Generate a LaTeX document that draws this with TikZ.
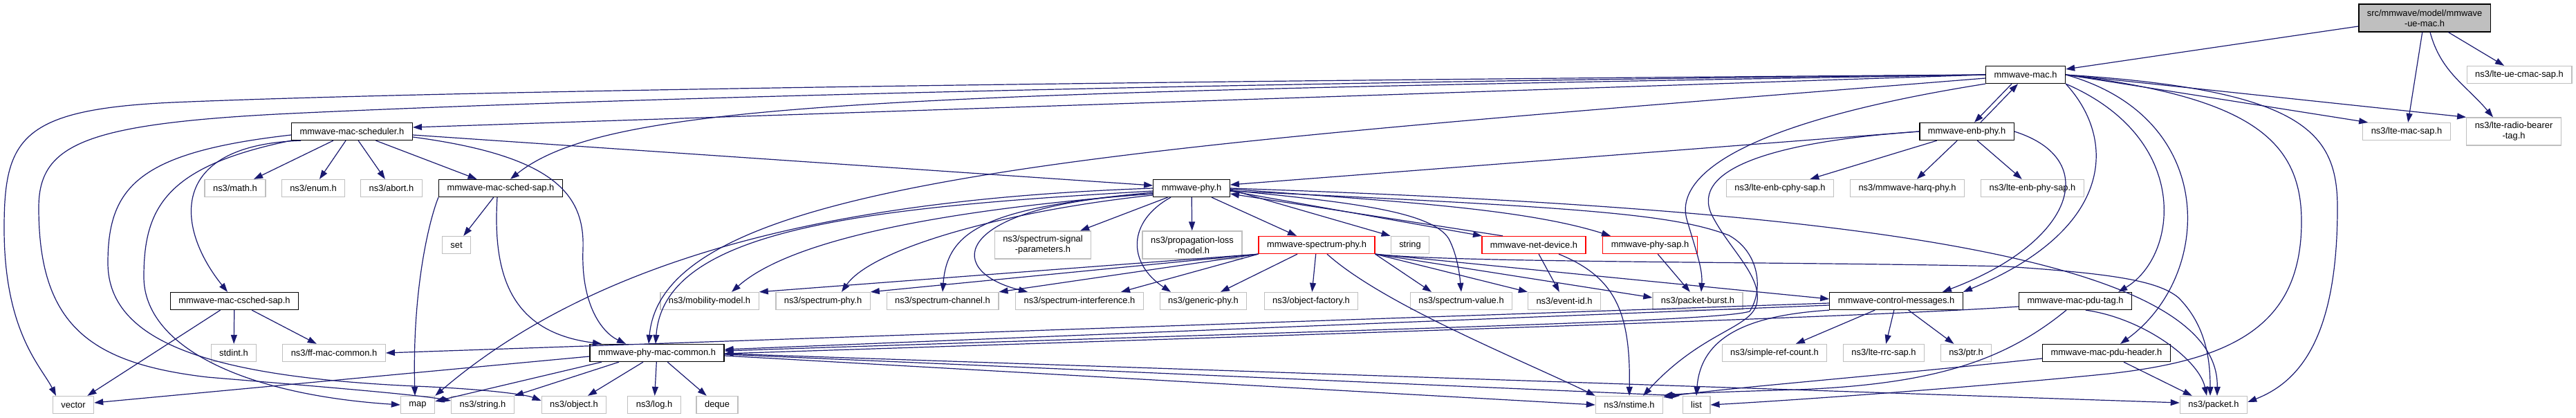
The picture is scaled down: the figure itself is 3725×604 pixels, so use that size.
\documentclass[tikz,border=0pt]{standalone}
\usepackage{fontspec}
\setmainfont{Liberation Sans}
\usetikzlibrary{arrows.meta}

\definecolor{azul}{HTML}{191970}
\definecolor{gris}{HTML}{BFBFBF}

\tikzset{
  caja/.style={rectangle, draw=black, line width=1.3pt, fill=white, inner xsep=12pt, inner ysep=3pt,
    minimum height=25pt, align=center, font=\fontsize{12.9}{15}\selectfont},
  sistema/.style={caja, draw=gris},
  roja/.style={caja, draw=red},
  raiz/.style={caja, fill=gris},
  doble/.style={minimum height=40pt},
  flecha/.style={draw=azul, line width=1.2pt, -{Triangle[length=13pt,width=9pt]}}
}

\begin{document}
\begin{tikzpicture}[x=1pt,y=1pt]

\useasboundingbox (0,0) rectangle (3725,-604);

% Fila 0 y 1
\node[raiz, doble] (uemac) at (3506,-26) {src/mmwave/model/mmwave\\-ue-mac.h};
\node[caja] (mac) at (2929,-108) {mmwave-mac.h};
\node[sistema] (cmacsap) at (3643,-108) {ns3/lte-ue-cmac-sap.h};

% Fila 2
\node[caja] (sched) at (509,-190) {mmwave-mac-scheduler.h};
\node[caja] (enbphy) at (2844,-190) {mmwave-enb-phy.h};
\node[sistema] (macsap) at (3480,-190) {ns3/lte-mac-sap.h};
\node[sistema, doble] (rbtag) at (3635,-190) {ns3/lte-radio-bearer\\-tag.h};

% Fila 3
\node[sistema] (math) at (340,-272) {ns3/math.h};
\node[sistema] (enum) at (453,-272) {ns3/enum.h};
\node[sistema] (abort) at (566,-272) {ns3/abort.h};
\node[caja] (schedsap) at (724,-272) {mmwave-mac-sched-sap.h};
\node[caja] (phy) at (1723,-272) {mmwave-phy.h};
\node[sistema] (cphysap) at (2574,-272) {ns3/lte-enb-cphy-sap.h};
\node[sistema] (harq) at (2758,-272) {ns3/mmwave-harq-phy.h};
\node[sistema] (enbphysap) at (2939,-272) {ns3/lte-enb-phy-sap.h};

% Fila 4
\node[sistema] (set) at (660,-354) {set};
\node[sistema, doble] (sigparams) at (1508,-354) {ns3/spectrum-signal\\-parameters.h};
\node[sistema, doble] (proploss) at (1724,-354) {ns3/propagation-loss\\-model.h};
\node[roja] (specphy) at (1904,-354) {mmwave-spectrum-phy.h};
\node[sistema] (string) at (2039,-354) {string};
\node[roja] (netdev) at (2218,-354) {mmwave-net-device.h};
\node[roja] (physap) at (2386,-354) {mmwave-phy-sap.h};

% Fila 5
\node[caja] (csched) at (339,-435) {mmwave-mac-csched-sap.h};
\node[sistema] (mobility) at (1026,-435) {ns3/mobility-model.h};
\node[sistema] (nsspecphy) at (1190,-435) {ns3/spectrum-phy.h};
\node[sistema] (specchan) at (1363,-435) {ns3/spectrum-channel.h};
\node[sistema] (specint) at (1561,-435) {ns3/spectrum-interference.h};
\node[sistema] (generic) at (1740,-435) {ns3/generic-phy.h};
\node[sistema] (objfact) at (1896,-435) {ns3/object-factory.h};
\node[sistema] (specval) at (2113,-435) {ns3/spectrum-value.h};
\node[sistema] (eventid) at (2262,-435) {ns3/event-id.h};
\node[sistema] (pktburst) at (2455,-435) {ns3/packet-burst.h};
\node[caja] (ctrlmsg) at (2742,-435) {mmwave-control-messages.h};
\node[caja] (pdutag) at (3001,-435) {mmwave-mac-pdu-tag.h};

% Fila 6
\node[sistema] (stdint) at (338,-510) {stdint.h};
\node[sistema] (ffmac) at (483,-510) {ns3/ff-mac-common.h};
\node[caja] (common) at (950,-510) {mmwave-phy-mac-common.h};
\node[sistema] (refcount) at (2566,-510) {ns3/simple-ref-count.h};
\node[sistema] (rrcsap) at (2724,-510) {ns3/lte-rrc-sap.h};
\node[sistema] (ptr) at (2843,-510) {ns3/ptr.h};
\node[caja] (pduhdr) at (3046,-510) {mmwave-mac-pdu-header.h};

% Fila 7
\node[sistema] (vector) at (106,-585) {vector};
\node[sistema] (map) at (604,-585) {map};
\node[sistema] (nsstring) at (698,-585) {ns3/string.h};
\node[sistema] (object) at (830,-585) {ns3/object.h};
\node[sistema] (log) at (946,-585) {ns3/log.h};
\node[sistema] (deque) at (1037,-585) {deque};
\node[sistema] (nstime) at (2356,-585) {ns3/nstime.h};
\node[sistema] (list) at (2453,-585) {list};
\node[sistema] (packet) at (3201,-585) {ns3/packet.h};

% mmwave-ue-mac.h
\draw[flecha] ([yshift=-12pt]uemac.west) -- ([yshift=8pt]mac.east);
\draw[flecha] (uemac) -- (macsap);
\draw[flecha] ([xshift=8pt]uemac.south) to[out=-75,in=130] ([xshift=-30pt]rbtag.north);
\draw[flecha] (uemac) -- (cmacsap);

% mmwave-mac.h
\draw[flecha] (mac.east) -- ([xshift=8pt]macsap.north west);
\draw[flecha] (mac.east) -- (rbtag.north west);
\draw[flecha] ([xshift=-20pt]mac.south) -- ([xshift=11pt]enbphy.north);
\draw[flecha] ([xshift=20pt]enbphy.north) -- ([xshift=-11pt]mac.south);
\draw[flecha] (mac.west) -- ([yshift=6pt]sched.east);
\draw[flecha] (mac.west) .. controls (1300,-135) and (880,-145) .. ([xshift=14pt]schedsap.north);
\draw[flecha] ([yshift=-5pt]mac.west) .. controls (1600,-215) and (960,-255) .. ([xshift=-12pt]common.north);
\draw[flecha] (mac.west) .. controls (1500,-118) and (600,-133) .. (250,-148)
  .. controls (30,-158) and (6,-200) .. (6,-330) .. controls (6,-480) and (60,-530) .. ([xshift=-25pt]vector.north);
\draw[flecha] (mac.west) .. controls (1500,-122) and (700,-150) .. (400,-165)
  .. controls (120,-180) and (56,-210) .. (56,-300) .. controls (56,-470) and (130,-525) .. (300,-545)
  .. controls (480,-560) and (600,-570) .. ([yshift=6pt]nsstring.west);
\draw[flecha] (mac.south west) .. controls (2500,-180) and (2420,-260) .. (2440,-320)
  .. controls (2455,-370) and (2462,-390) .. ([xshift=5pt]pktburst.north);
\draw[flecha] (mac.south east) .. controls (3060,-200) and (3060,-330) .. (ctrlmsg.north east);
\draw[flecha] (mac.south east) .. controls (3170,-200) and (3150,-370) .. ([xshift=-20pt]pdutag.north east);
\draw[flecha] (mac.east) .. controls (3210,-170) and (3200,-400) .. ([xshift=20pt]pduhdr.north);
\draw[flecha] (mac.east) .. controls (3250,-140) and (3328,-200) .. (3328,-320)
  .. controls (3328,-470) and (3230,-520) .. (3050,-540) .. controls (2850,-560) and (2600,-578) .. (list.east);
\draw[flecha] (mac.east) .. controls (3330,-130) and (3380,-190) .. (3380,-300)
  .. controls (3380,-480) and (3330,-550) .. ([yshift=4pt]packet.east);

% mmwave-enb-phy.h
\draw[flecha] (enbphy.west) -- ([yshift=5pt]phy.east);
\draw[flecha] (enbphy) -- (cphysap);
\draw[flecha] (enbphy) -- (harq);
\draw[flecha] (enbphy) -- (enbphysap);
\draw[flecha] (enbphy.east) .. controls (3040,-230) and (3000,-350) .. ([xshift=-30pt]ctrlmsg.north east);
\draw[flecha] (enbphy.west) .. controls (2560,-205) and (2445,-245) .. (2475,-310)
  .. controls (2500,-360) and (2550,-400) .. (2540,-440) .. controls (2530,-475) and (2460,-480) .. ([xshift=20pt]nstime.north);

% mmwave-mac-scheduler.h
\draw[flecha] (sched) -- (math);
\draw[flecha] (sched) -- (enum);
\draw[flecha] (sched) -- (abort);
\draw[flecha] (sched) -- (schedsap);
\draw[flecha] ([yshift=-5pt]sched.east) -- ([yshift=4pt]phy.west);
\draw[flecha] ([yshift=-8pt]sched.east) .. controls (800,-225) and (846,-280) .. (843,-360)
  .. controls (840,-440) and (870,-480) .. ([xshift=-45pt]common.north);
\draw[flecha] ([xshift=-74pt]sched.south) .. controls (240,-210) and (255,-330) .. ([xshift=-10pt]csched.north);
\draw[flecha] (sched.south west) .. controls (240,-240) and (208,-300) .. (208,-400)
  .. controls (208,-500) and (350,-570) .. (map.west);
\draw[flecha] ([yshift=-5pt]sched.west) .. controls (200,-220) and (156,-270) .. (156,-380)
  .. controls (156,-500) and (320,-545) .. (600,-558) .. controls (700,-562) and (760,-570) .. ([yshift=6pt]object.west);

% mmwave-mac-sched-sap.h y mmwave-mac-csched-sap.h
\draw[flecha] (schedsap) -- (set);
\draw[flecha] (schedsap.south west) .. controls (620,-320) and (596,-420) .. ([xshift=-4pt]map.north);
\draw[flecha] ([xshift=-5pt]schedsap.south) .. controls (712,-400) and (740,-480) .. ([xshift=-80pt]common.north);
\draw[flecha] (csched) -- (vector);
\draw[flecha] (csched) -- (stdint);
\draw[flecha] (csched) -- (ffmac);

% mmwave-phy.h
\draw[flecha] (phy.west) .. controls (1300,-285) and (900,-340) .. (map.north east);
\draw[flecha] ([yshift=-4pt]phy.west) .. controls (1250,-300) and (960,-330) .. ([xshift=-2pt]common.north);
\draw[flecha] ([yshift=-8pt]phy.west) .. controls (1400,-300) and (1150,-340) .. ([xshift=32pt]mobility.north);
\draw[flecha] ([yshift=-10pt]phy.west) .. controls (1450,-305) and (1260,-360) .. ([xshift=27pt]nsspecphy.north);
\draw[flecha] ([yshift=-6pt]phy.west) .. controls (1430,-300) and (1370,-330) .. (specchan.north);
\draw[flecha] ([yshift=-8pt]phy.west) .. controls (1380,-295) and (1360,-390) .. ([xshift=-75pt]specint.north);
\draw[flecha] (phy) -- (sigparams);
\draw[flecha] (phy) -- (proploss);
\draw[flecha] ([xshift=-30pt]phy.south) .. controls (1630,-320) and (1630,-380) .. ([xshift=-47pt]generic.north);
\draw[flecha] (phy) -- (specphy);
\draw[flecha] ([yshift=-2pt]phy.east) -- (string.north west);
\draw[flecha] ([yshift=-4pt]phy.east) -- ([xshift=-75pt]netdev.north);
\draw[flecha] ([xshift=-45pt]netdev.north) -- ([yshift=-8pt]phy.east);
\draw[flecha] ([yshift=-1pt]phy.east) .. controls (2000,-290) and (2200,-300) .. ([xshift=-57pt]physap.north);
\draw[flecha] ([yshift=-3pt]phy.east) .. controls (1950,-292) and (2070,-305) .. (2095,-345)
  .. controls (2108,-370) and (2111,-400) .. (specval.north);
\draw[flecha] (phy.east) .. controls (2600,-300) and (3210,-360) .. ([xshift=5pt]packet.north);
\draw[flecha] ([yshift=-4pt]phy.east) .. controls (2300,-300) and (2420,-310) .. (2500,-340)
  .. controls (2545,-365) and (2550,-420) .. (2530,-450) .. controls (2480,-465) and (2000,-475) .. ([yshift=3pt]common.east);

% mmwave-spectrum-phy.h
\draw[flecha] (specphy.south west) -- (mobility.north east);
\draw[flecha] (specphy.south west) -- (nsspecphy.north east);
\draw[flecha] (specphy.south west) -- (specchan.north east);
\draw[flecha] (specphy.south west) -- ([xshift=60pt]specint.north);
\draw[flecha] ([xshift=-28pt]specphy.south) -- ([xshift=25pt]generic.north);
\draw[flecha] (specphy) -- (objfact);
\draw[flecha] (specphy.south east) -- ([xshift=-43pt]specval.north);
\draw[flecha] (specphy.south east) -- (eventid.north west);
\draw[flecha] (specphy.south east) -- ([yshift=5pt]pktburst.west);
\draw[flecha] (specphy.south east) -- ([yshift=3pt]ctrlmsg.west);
\draw[flecha] ([xshift=15pt]specphy.south) .. controls (2000,-440) and (2200,-520) .. (nstime.north west);
\draw[flecha] (specphy.south east) .. controls (2100,-380) and (2600,-378) .. (2900,-385)
  .. controls (3050,-395) and (3120,-405) .. (3150,-430) .. controls (3190,-470) and (3196,-520) .. ([xshift=-5pt]packet.north);

% mmwave-net-device.h y mmwave-phy-sap.h
\draw[flecha] (netdev) -- (eventid);
\draw[flecha] ([xshift=36pt]netdev.south) .. controls (2335,-400) and (2358,-450) .. (nstime.north);
\draw[flecha] (physap) -- (pktburst);

% mmwave-control-messages.h
\draw[flecha] ([yshift=-3pt]ctrlmsg.west) -- (ffmac.east);
\draw[flecha] ([yshift=-6pt]ctrlmsg.west) -- ([yshift=5pt]common.east);
\draw[flecha] (ctrlmsg) -- (refcount);
\draw[flecha] (ctrlmsg) -- (rrcsap);
\draw[flecha] (ctrlmsg) -- (ptr);
\draw[flecha] (ctrlmsg.south west) .. controls (2540,-455) and (2460,-480) .. (list.north);

% mmwave-mac-pdu-tag.h y mmwave-mac-pdu-header.h
\draw[flecha] ([yshift=-8pt]pdutag.west) .. controls (2700,-458) and (2000,-480) .. ([yshift=-1pt]common.east);
\draw[flecha] ([xshift=-13pt]pdutag.south) .. controls (2900,-520) and (2800,-555) .. (2600,-563)
  .. controls (2500,-566) and (2440,-568) .. (nstime.north east);
\draw[flecha] ([xshift=15pt]pdutag.south) .. controls (3100,-460) and (3180,-520) .. ([xshift=-10pt]packet.north);
\draw[flecha] ([yshift=-8pt]pduhdr.west) .. controls (2700,-545) and (2500,-560) .. ([yshift=-2pt]nstime.north east);
\draw[flecha] ([xshift=25pt]pduhdr.south) -- ([xshift=18pt]packet.north west);

% mmwave-phy-mac-common.h
\draw[flecha] ([yshift=-5pt]common.west) -- ([yshift=3pt]vector.east);
\draw[flecha] ([xshift=-80pt]common.south) -- ([yshift=5pt]map.east);
\draw[flecha] ([xshift=-55pt]common.south) -- (nsstring.north east);
\draw[flecha] ([xshift=-20pt]common.south) -- ([xshift=20pt]object.north);
\draw[flecha] (common) -- (log);
\draw[flecha] (common) -- (deque);
\draw[flecha] ([yshift=-4pt]common.east) -- (nstime.west);
\draw[flecha] ([yshift=-2pt]common.east) -- ([xshift=-3pt]list.north west);
\draw[flecha] ([yshift=-1pt]common.east) -- ([yshift=3pt]packet.west);

\end{tikzpicture}
\end{document}
